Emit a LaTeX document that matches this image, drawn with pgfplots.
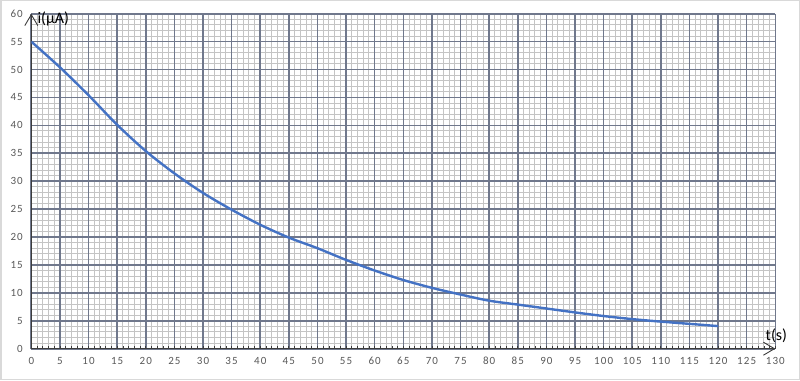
\documentclass[border=0pt]{standalone}
\usepackage{fontspec}
\setmainfont{Carlito}
\newfontfamily\tickfont[LetterSpace=10]{Carlito}
\usepackage{pgfplots}
\pgfplotsset{compat=1.18}
\usetikzlibrary{arrows.meta}
\definecolor{curveblue}{RGB}{68,114,196}
\definecolor{majorgrid}{RGB}{112,120,140}
\definecolor{minorgrid}{RGB}{196,196,196}
\definecolor{ticktext}{RGB}{89,89,89}
\definecolor{frame}{RGB}{217,217,217}
\definecolor{axisline}{RGB}{60,60,60}
\pgfplotsset{
  common/.style={
    at={(31.3pt,31.3pt)}, anchor=south west,
    scale only axis, width=744pt, height=335pt,
    xmin=0, xmax=130, ymin=0, ymax=60,
    xtick={0,5,10,15,20,25,30,35,40,45,50,55,60,65,70,75,80,85,90,95,100,105,110,115,120,125,130},
    ytick={0,5,10,15,20,25,30,35,40,45,50,55,60},
    minor x tick num=4, minor y tick num=4,
  }
}
\begin{document}
\begin{tikzpicture}[x=1pt,y=1pt]
\draw[frame, fill=white, line width=1.5pt] (0.75,0.75) rectangle (799.25,379.25);
% minor grid
\begin{axis}[common,
  grid=minor,
  minor grid style={minorgrid, line width=1pt},
  axis line style={draw=none},
  tick style={draw=none},
  xticklabels={}, yticklabels={},
]
\addplot[draw=none] coordinates {(0,0) (130,60)};
\end{axis}
% major grid, axes, curve
\begin{axis}[common,
  clip mode=individual,
  axis lines=left,
  axis line style={axisline, line width=1pt, -{Straight Barb[length=11pt,width=13pt,line width=0.9pt]}},
  grid=major,
  major grid style={majorgrid, line width=1.6pt},
  tick align=inside,
  major tick length=3pt, minor tick length=3pt,
  xtick style={axisline, line width=0.7pt},
  ytick style={draw=none},
  ticklabel style={font=\tickfont\fontsize{11}{13}\selectfont, text=ticktext},
  /pgf/number format/assume math mode=true,
  yticklabel style={xshift=-5pt},
  xticklabel style={yshift=-5pt},
]
\addplot[smooth, color=curveblue, line width=2.4pt, line join=round] coordinates {
(0,55) (5,50.4) (10,45.4) (15,40.1) (20,35.4) (25,31.4) (30,27.9) (35,24.9)
(40,22.2) (45,19.9) (50,18.0) (55,15.9) (60,14.0) (65,12.3) (70,10.9) (75,9.7)
(80,8.6) (85,7.9) (90,7.2) (95,6.5) (100,5.85) (105,5.3) (110,4.85) (115,4.45) (120,4.05)
};
\node[anchor=west, inner sep=0pt, font=\fontsize{16}{18}\selectfont] at ([xshift=6pt,yshift=-5pt]rel axis cs:0,1) {i(μA)};
\node[inner sep=0pt, font=\fontsize{16}{18}\selectfont] at ([xshift=1pt,yshift=13pt]rel axis cs:1,0) {t(s)};
\end{axis}
\end{tikzpicture}
\end{document}
